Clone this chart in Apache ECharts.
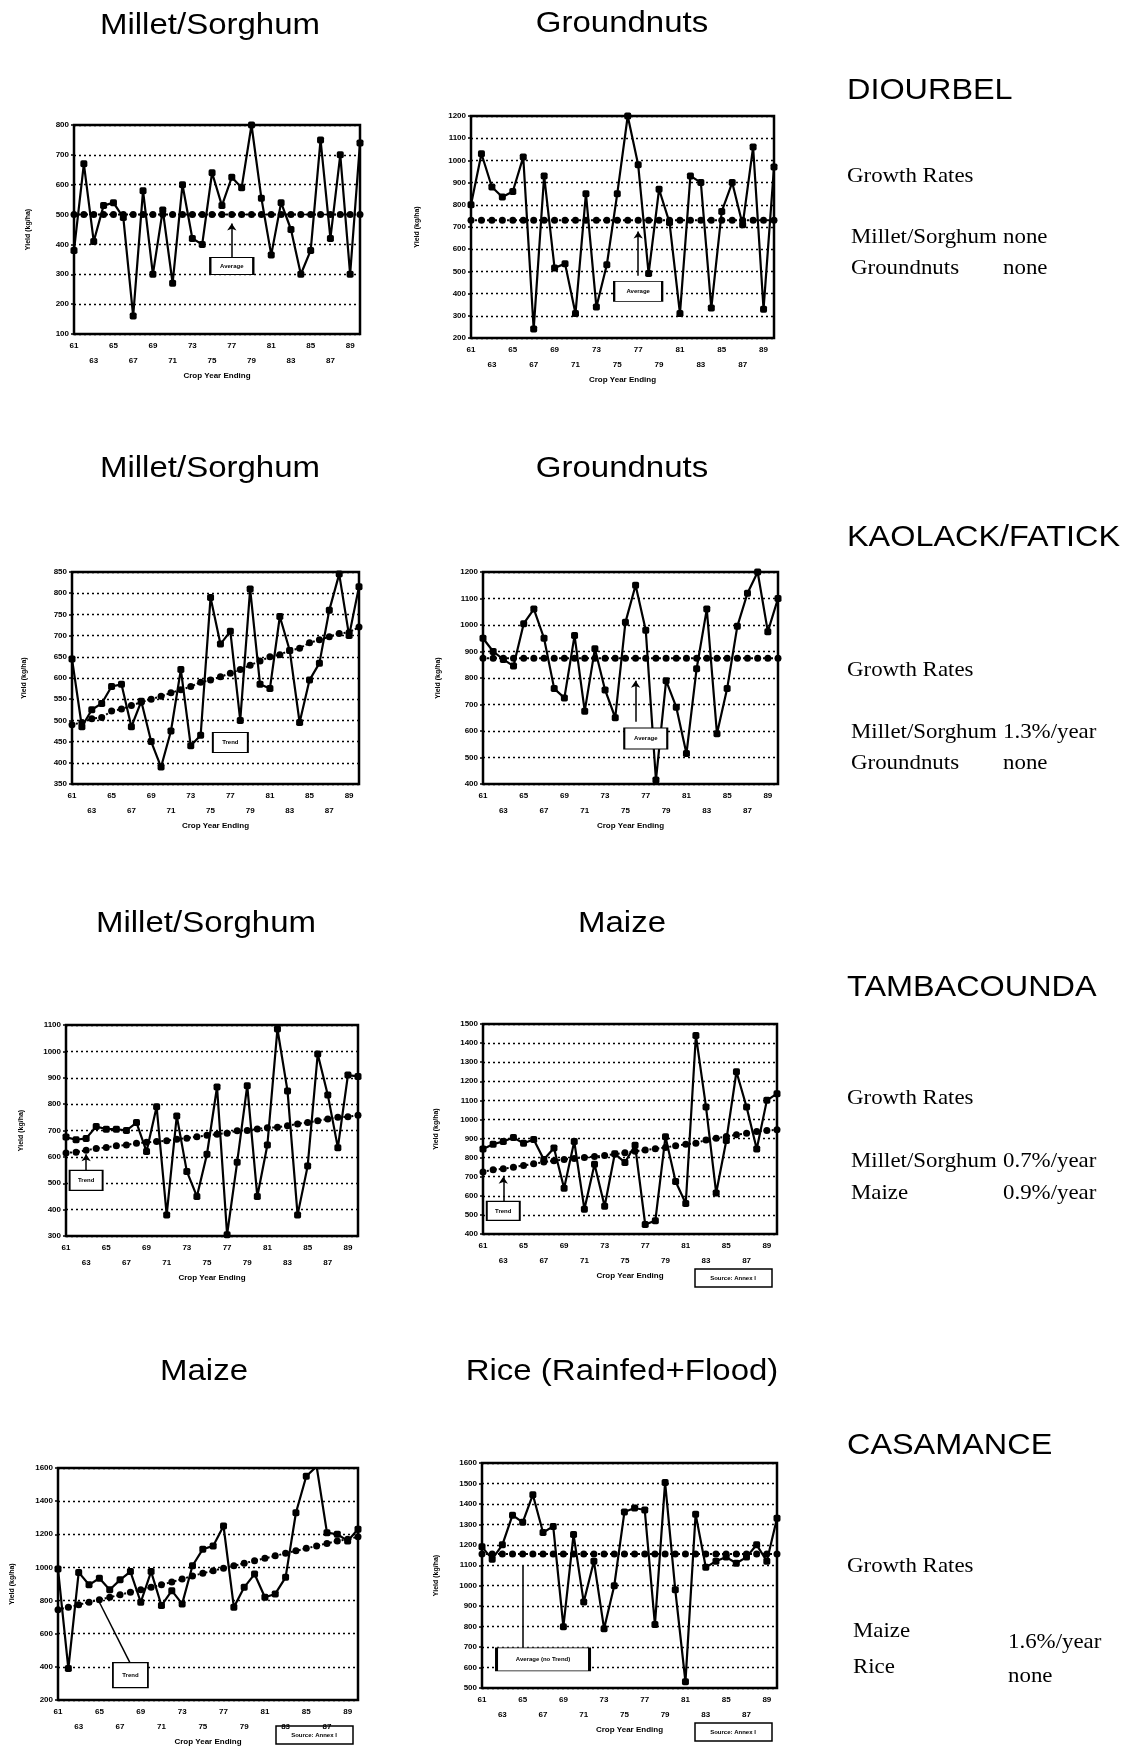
<!DOCTYPE html>
<html>
<head>
<meta charset="utf-8">
<script src="https://cdn.jsdelivr.net/npm/echarts@6/dist/echarts.min.js"></script>
<style>
  html, body { margin: 0; padding: 0; background: #fff; }
  #chart { width: 1130px; height: 1747px; }
</style>
</head>
<body>
<div id="chart"></div>
<script>
// crop years 1961-1990
const years = ['61', '62', '63', '64', '65', '66', '67', '68', '69', '70', '71', '72', '73', '74', '75',
  '76', '77', '78', '79', '80', '81', '82', '83', '84', '85', '86', '87', '88', '89', '90']

// Diourbel
const diourbelMillet = [380, 670, 410, 530, 540, 490, 160, 580, 300, 515, 270, 600, 420, 400, 640,
  530, 625, 590, 800, 555, 365, 540, 450, 300, 380, 750, 420, 700, 300, 740]
const diourbelMilletAvg = 500
const diourbelGnut = [800, 1030, 880, 835, 860, 1015, 240, 930, 515, 535, 310, 850, 340, 530, 850,
  1200, 980, 490, 870, 720, 310, 930, 900, 335, 770, 900, 710, 1060, 330, 970]
const diourbelGnutAvg = 730

// Kaolack / Fatick
const kaolackMillet = [645, 485, 525, 540, 580, 585, 485, 545, 450, 390, 475, 620, 440, 465, 790,
  680, 710, 500, 810, 585, 575, 745, 665, 495, 595, 635, 760, 845, 700, 815]
const kaolackMilletTrend = [490, 495, 504, 507, 522, 527, 535, 543, 550, 557, 565, 572, 580, 590, 595,
  603, 611, 620, 630, 640, 650, 655, 665, 670, 683, 690, 697, 705, 708, 720]
const kaolackGnut = [950, 900, 870, 845, 1005, 1060, 950, 760, 725, 960, 675, 910, 755, 650, 1010,
  1150, 980, 415, 790, 690, 515, 835, 1060, 590, 760, 995, 1120, 1200, 975, 1100]
const kaolackGnutAvg = 875

// Tambacounda
const tambaMillet = [675, 665, 670, 715, 705, 705, 700, 730, 620, 790, 380, 755, 545, 450, 610,
  865, 305, 580, 870, 450, 645, 1085, 850, 380, 565, 990, 835, 635, 910, 905]
const tambaMilletTrend = [615, 618, 625, 632, 636, 642, 645, 652, 655, 658, 661, 667, 671, 676, 682,
  686, 690, 699, 700, 706, 710, 712, 718, 725, 730, 737, 744, 750, 752, 758]
const tambaMaize = [845, 870, 885, 905, 875, 895, 790, 850, 640, 885, 530, 765, 545, 820, 775,
  865, 450, 470, 910, 675, 560, 1440, 1065, 615, 890, 1250, 1065, 845, 1100, 1135]
const tambaMaizeTrend = [725, 737, 742, 750, 759, 768, 777, 784, 790, 796, 801, 806, 811, 818, 826,
  833, 840, 846, 853, 862, 870, 876, 893, 902, 911, 920, 928, 937, 942, 946]

// Casamance
const casMaize = [990, 390, 970, 895, 935, 865, 925, 975, 790, 975, 770, 860, 780, 1010, 1110,
  1130, 1250, 760, 880, 960, 820, 840, 940, 1330, 1550, 1610, 1210, 1200, 1160, 1230]
const casMaizeTrend = [745, 760, 775, 790, 805, 820, 835, 850, 865, 880, 895, 912, 930, 948, 965,
  980, 995, 1010, 1025, 1040, 1055, 1070, 1085, 1100, 1115, 1130, 1145, 1160, 1170, 1185]
const casRice = [1190, 1130, 1200, 1345, 1310, 1445, 1260, 1290, 800, 1250, 920, 1120, 790, 1000, 1360,
  1380, 1370, 810, 1505, 980, 530, 1350, 1090, 1120, 1140, 1110, 1140, 1200, 1120, 1330]
const casRiceAvg = 1155

const SANS = 'Liberation Sans, Arial, sans-serif'
const SERIF = 'Liberation Serif, Times New Roman, serif'

const flat = (v) => years.map(() => v)

const panels = [
	{ box: [74, 125, 286, 209], y: [100, 800, 100], values: diourbelMillet, ref: flat(diourbelMilletAvg), nameGap: 42,
		note: { at: ['77', 328], size: [43, 17], text: 'Average', from: ['77', 358], to: ['77', 470], arrow: true } },
	{ box: [471, 116, 303, 222], y: [200, 1200, 100], values: diourbelGnut, ref: flat(diourbelGnutAvg), nameGap: 50,
		note: { at: ['77', 410], size: [48, 20], text: 'Average', from: ['77', 480], to: ['77', 680], arrow: true } },
	{ box: [72, 572, 287, 212], y: [350, 850, 50], values: kaolackMillet, ref: kaolackMilletTrend, nameGap: 44,
		note: { at: ['77', 448], size: [35, 20], text: 'Trend' } },
	{ box: [483, 572, 295, 212], y: [400, 1200, 100], values: kaolackGnut, ref: flat(kaolackGnutAvg), nameGap: 41,
		note: { at: ['77', 572], size: [43, 21], text: 'Average', from: ['76', 635], to: ['76', 790], arrow: true } },
	{ box: [66, 1025, 292, 211], y: [300, 1100, 100], values: tambaMillet, ref: tambaMilletTrend, nameGap: 41,
		note: { at: ['63', 511], size: [33, 20], text: 'Trend', from: ['63', 548], to: ['63', 610], arrow: true } },
	{ box: [483, 1024, 294, 210], y: [400, 1500, 100], values: tambaMaize, ref: tambaMaizeTrend, nameGap: 43,
		note: { at: ['63', 521], size: [33, 19], text: 'Trend', from: ['63', 570], to: ['63', 700], arrow: true } },
	{ box: [58, 1468, 300, 235], y: [200, 1600, 200], values: casMaize, ref: casMaizeTrend, nameGap: 42,
		note: { at: ['68', 350], size: [35, 25], text: 'Trend', from: ['68', 420], to: ['65', 790], arrow: false } },
	{ box: [482, 1463, 295, 225], y: [500, 1600, 100], values: casRice, ref: flat(casRiceAvg), nameGap: 42,
		note: { at: ['67', 640], size: [93, 23], text: 'Average (no Trend)', from: ['65', 700], to: ['65', 1100], arrow: false } },
]

const grid = []
const xAxis = []
const yAxis = []
const series = []

panels.forEach((p, i) => {
	grid.push({
		left: p.box[0], top: p.box[1], width: p.box[2], height: p.box[3],
		show: true, borderColor: '#000', borderWidth: 2.5, backgroundColor: 'transparent',
	})
	xAxis.push({
		type: 'category',
		gridIndex: i,
		data: years,
		boundaryGap: false,
		name: 'Crop Year Ending',
		nameLocation: 'middle',
		nameGap: 38,
		nameTextStyle: { color: '#000', fontSize: 8, fontWeight: 'bold', fontFamily: SANS },
		axisLine: { show: false },
		axisTick: { show: false },
		splitLine: { show: false },
		axisLabel: {
			interval: 0,
			margin: 4,
			color: '#000',
			fontSize: 8,
			fontWeight: 'bold',
			fontFamily: SANS,
			lineHeight: 15,
			formatter: (v, idx) => (idx % 4 === 0 ? v : idx % 4 === 2 ? '\n' + v : ''),
		},
	})
	yAxis.push({
		type: 'value',
		gridIndex: i,
		min: p.y[0],
		max: p.y[1],
		interval: p.y[2],
		name: 'Yield (kg/ha)',
		nameLocation: 'middle',
		nameGap: p.nameGap,
		nameTextStyle: { color: '#000', fontSize: 7, fontWeight: 'bold', fontFamily: SANS },
		axisLine: { show: false },
		axisTick: { show: true, length: 3, lineStyle: { color: '#000', width: 1.5 } },
		axisLabel: { color: '#000', fontSize: 8, fontWeight: 'bold', fontFamily: SANS, margin: 5, formatter: (v) => String(v) },
		splitLine: { show: true, lineStyle: { color: '#000', type: [2, 3], width: 1.3 } },
	})

	const n = p.note
	const markLine = n.from
		? {
				silent: true,
				symbol: ['none', n.arrow ? 'arrow' : 'none'],
				symbolSize: 7,
				label: { show: false },
				lineStyle: { color: '#000', type: 'solid', width: 1.5 },
				data: [[{ coord: n.from }, { coord: n.to }]],
			}
		: undefined

	series.push({
		type: 'line',
		xAxisIndex: i,
		yAxisIndex: i,
		data: p.ref,
		symbol: 'circle',
		symbolSize: 7,
		itemStyle: { color: '#000' },
		lineStyle: { color: '#000', width: 2, type: 'dotted' },
		z: 2,
		silent: true,
	})
	series.push({
		type: 'line',
		xAxisIndex: i,
		yAxisIndex: i,
		data: p.values,
		symbol: 'roundRect',
		symbolSize: 7,
		itemStyle: { color: '#000' },
		lineStyle: { color: '#000', width: 2.2 },
		z: 3,
		silent: true,
		markLine,
		markPoint: {
			silent: true,
			data: [
				{
					coord: n.at,
					symbol: 'rect',
					symbolSize: n.size,
					itemStyle: { color: '#fff', borderColor: '#000', borderWidth: 1.5 },
					label: {
						show: true,
						position: 'inside',
						formatter: n.text,
						color: '#000',
						fontSize: 6,
						fontWeight: 'bold',
						fontFamily: SANS,
					},
				},
			],
		},
	})
})

const text = (x, y, str, size, family, align, sx) => ({
	type: 'text',
	x,
	y,
	scaleX: sx || 1,
	silent: true,
	style: { text: str, fontSize: size, fontFamily: family, fill: '#000', align: align || 'left', verticalAlign: 'middle' },
})
const title = (x, y, str) => text(x, y, str, 30, SANS, 'center', 1.1)
const region = (x, y, str) => text(x, y, str, 30, SANS, 'left', 1.08)
const note = (x, y, str) => text(x, y, str, 22, SERIF, 'left', 1.04)

const sourceBox = (x, y) => ({
	type: 'group',
	x,
	y,
	silent: true,
	children: [
		{ type: 'rect', shape: { x: 0, y: 0, width: 77, height: 18 }, style: { fill: '#fff', stroke: '#000', lineWidth: 1.5 } },
		{ type: 'text', x: 38, y: 9, style: { text: 'Source: Annex I', fontSize: 6, fontWeight: 'bold', fontFamily: SANS, fill: '#000', align: 'center', verticalAlign: 'middle' } },
	],
})

const graphic = [
	// panel titles
	title(210, 26, 'Millet/Sorghum'),
	title(622, 24, 'Groundnuts'),
	title(210, 469, 'Millet/Sorghum'),
	title(622, 469, 'Groundnuts'),
	title(206, 924, 'Millet/Sorghum'),
	title(622, 924, 'Maize'),
	title(204, 1372, 'Maize'),
	title(622, 1372, 'Rice (Rainfed+Flood)'),

	// regions and growth rates
	region(847, 91, 'DIOURBEL'),
	note(847, 176, 'Growth Rates'),
	note(851, 237, 'Millet/Sorghum'),
	note(1003, 237, 'none'),
	note(851, 268, 'Groundnuts'),
	note(1003, 268, 'none'),

	region(847, 538, 'KAOLACK/FATICK'),
	note(847, 670, 'Growth Rates'),
	note(851, 732, 'Millet/Sorghum'),
	note(1003, 732, '1.3%/year'),
	note(851, 763, 'Groundnuts'),
	note(1003, 763, 'none'),

	region(847, 988, 'TAMBACOUNDA'),
	note(847, 1098, 'Growth Rates'),
	note(851, 1161, 'Millet/Sorghum'),
	note(1003, 1161, '0.7%/year'),
	note(851, 1193, 'Maize'),
	note(1003, 1193, '0.9%/year'),

	region(847, 1446, 'CASAMANCE'),
	note(847, 1566, 'Growth Rates'),
	note(853, 1631, 'Maize'),
	note(1008, 1642, '1.6%/year'),
	note(853, 1667, 'Rice'),
	note(1008, 1676, 'none'),

	sourceBox(695, 1269),
	sourceBox(276, 1726),
	sourceBox(695, 1723),
]

const chart = echarts.init(document.getElementById('chart'))
chart.setOption({
	animation: false,
	backgroundColor: '#fff',
	grid,
	xAxis,
	yAxis,
	series,
	graphic,
})
</script>
</body>
</html>
